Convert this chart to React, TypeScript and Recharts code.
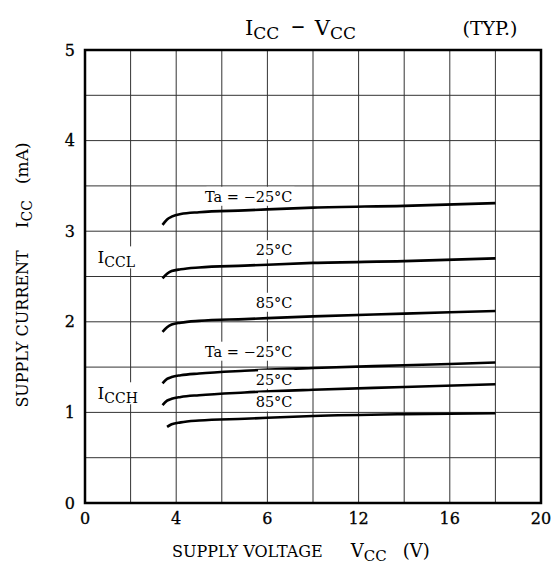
import { LineChart, Line, XAxis, YAxis, CartesianGrid, ReferenceDot, ReferenceArea, Customized } from "recharts"

const voltage = [3.4, 3.6, 3.8, 4.2, 5, 7, 10, 14, 18]
const iccLm25 = [3.07, 3.13, 3.16, 3.19, 3.21, 3.23, 3.26, 3.28, 3.31]
const iccL25 = [2.48, 2.53, 2.56, 2.58, 2.6, 2.62, 2.65, 2.67, 2.7]
const iccL85 = [1.89, 1.94, 1.97, 1.99, 2.01, 2.03, 2.06, 2.09, 2.12]
const iccHm25 = [1.32, 1.37, 1.39, 1.41, 1.43, 1.46, 1.49, 1.52, 1.55]
const iccH25 = [1.08, 1.13, 1.15, 1.17, 1.19, 1.22, 1.25, 1.28, 1.31]
const iccH85 = [null, 0.84, 0.87, 0.89, 0.91, 0.93, 0.96, 0.98, 0.99]

const xTicks = [0, 2, 4, 6, 8, 10, 12, 14, 16, 18, 20]
const xTickLabels: Record<number, string> = { 0: "0", 4: "4", 8: "6", 12: "12", 16: "16", 20: "20" }
const yTicks = [0, 0.5, 1, 1.5, 2, 2.5, 3, 3.5, 4, 4.5, 5]

// curve annotations: text, anchor voltage, anchor current
const curveLabels = [
  { text: "Ta = \u221225\u00b0C", x: 9.1, y: 3.38 },
  { text: "25\u00b0C", x: 9.1, y: 2.79 },
  { text: "85\u00b0C", x: 9.1, y: 2.21 },
  { text: "Ta = \u221225\u00b0C", x: 9.1, y: 1.67 },
  { text: "25\u00b0C", x: 9.1, y: 1.36 },
  { text: "85\u00b0C", x: 9.1, y: 1.11 },
]
const groupLabels = [
  { main: "I", sub: "CCL", x: 0.55, y: 2.7 },
  { main: "I", sub: "CCH", x: 0.55, y: 1.2 },
]

const data = voltage.map((v, i) => ({
  v,
  lm25: iccLm25[i],
  l25: iccL25[i],
  l85: iccL85[i],
  hm25: iccHm25[i],
  h25: iccH25[i],
  h85: iccH85[i],
}))

const FONT = "DejaVu Serif"

function CurveTag(props: any) {
  const { cx, cy, text } = props
  const w = text.length * 8.6
  return (
    <g>
      <rect x={cx - w} y={cy - 10} width={w + 2} height={19} fill="#fff" />
      <text x={cx} y={cy + 5} textAnchor="end" fontFamily={FONT} fontSize={14.5} fill="#000">
        {text}
      </text>
    </g>
  )
}

function GroupTag(props: any) {
  const { cx, cy, main, sub } = props
  return (
    <g>
      <rect x={cx - 2} y={cy - 12} width={50} height={22} fill="#fff" />
      <text x={cx} y={cy + 5} fontFamily={FONT} fontSize={17} fill="#000">
        {main}
        <tspan fontSize={14} dy={4}>{sub}</tspan>
      </text>
    </g>
  )
}

function Texts() {
  return (
    <g fontFamily={FONT} fill="#000">
      <text x={245} y={35} fontSize={21}>
        I<tspan fontSize={17} dy={4}>CC</tspan>
        <tspan dy={-4} dx={12} fontSize={27}>{"\u2013"}</tspan>
        <tspan dx={10}>V</tspan>
        <tspan fontSize={17} dy={4}>CC</tspan>
      </text>
      <text x={490} y={35} textAnchor="middle" fontSize={19}>(TYP.)</text>
      <text x={172} y={557} fontSize={16}>
        SUPPLY VOLTAGE
        <tspan dx={28} fontSize={18}>V</tspan>
        <tspan fontSize={15} dy={4}>CC</tspan>
        <tspan dy={-4} dx={16} fontSize={18}>(V)</tspan>
      </text>
      <text x={28} y={275} textAnchor="middle" fontSize={16} transform="rotate(-90, 28, 275)">
        SUPPLY CURRENT
        <tspan dx={22} fontSize={17}>I</tspan>
        <tspan fontSize={14} dy={4}>CC</tspan>
        <tspan dy={-4} dx={16} fontSize={17}>(mA)</tspan>
      </text>
    </g>
  )
}

const series = ["lm25", "l25", "l85", "hm25", "h25", "h85"]

export default function App() {
  return (
    <div style={{ position: "absolute", left: 0, top: 0, background: "#fff" }}>
      <LineChart width={554} height={567} data={data} margin={{ top: 50, right: 13, left: 60, bottom: 34 }}>
        <CartesianGrid stroke="#333" strokeWidth={1} />
        <XAxis
          dataKey="v"
          type="number"
          domain={[0, 20]}
          ticks={xTicks}
          interval={0}
          height={30}
          tickLine={false}
          axisLine={false}
          tickFormatter={(t) => xTickLabels[t] ?? ""}
          tick={{ fontFamily: FONT, fontSize: 16, fill: "#000", stroke: "#000", strokeWidth: 0.3 }}
          tickMargin={4}
        />
        <YAxis
          type="number"
          domain={[0, 5]}
          ticks={yTicks}
          interval={0}
          width={25}
          tickLine={false}
          axisLine={false}
          tickFormatter={(t) => (Number.isInteger(t) ? String(t) : "")}
          tick={{ fontFamily: FONT, fontSize: 16, fill: "#000", stroke: "#000", strokeWidth: 0.3 }}
          tickMargin={4}
        />
        <ReferenceArea x1={0} x2={20} y1={0} y2={5} fill="none" stroke="#000" strokeWidth={2.5} />
        {series.map((k) => (
          <Line key={k} dataKey={k} type="monotone" stroke="#000" strokeWidth={2.6} dot={false} isAnimationActive={false} connectNulls />
        ))}
        {curveLabels.map((l, i) => (
          <ReferenceDot key={"c" + i} x={l.x} y={l.y} r={0} shape={(p: any) => <CurveTag {...p} text={l.text} />} />
        ))}
        {groupLabels.map((l, i) => (
          <ReferenceDot key={"g" + i} x={l.x} y={l.y} r={0} shape={(p: any) => <GroupTag {...p} main={l.main} sub={l.sub} />} />
        ))}
        <Customized component={<Texts />} />
      </LineChart>
    </div>
  )
}
